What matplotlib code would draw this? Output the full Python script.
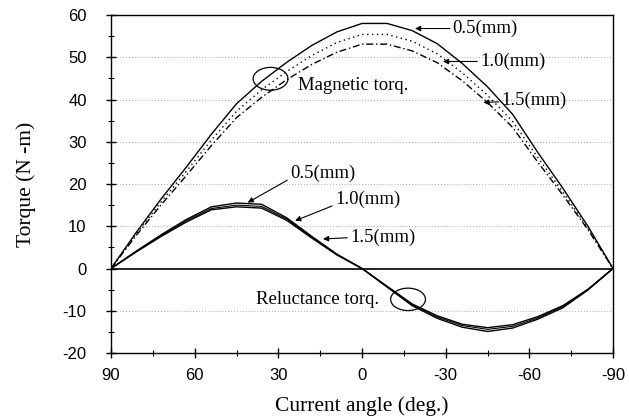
import matplotlib
matplotlib.use("Agg")
import matplotlib.pyplot as plt
from matplotlib.patches import Ellipse
from matplotlib.ticker import MultipleLocator, FixedLocator, FixedFormatter

# ---- data ----
angle = [90, 81, 72, 63, 54, 45, 36, 27, 18, 9, 0, -9, -18, -27, -36, -45, -54, -63, -72, -81, -90]

mag_05 = [0, 8.5, 16.5, 24.0, 31.8, 39.0, 44.3, 48.8, 52.8, 56.0, 58.0, 58.0, 56.3, 53.2, 48.5, 43.0, 36.5, 27.5, 19.0, 10.0, 0]
mag_10 = [0, 8.2, 15.8, 23.0, 30.4, 37.2, 42.3, 46.6, 50.4, 53.5, 55.4, 55.4, 53.8, 50.8, 46.3, 41.0, 34.8, 26.3, 18.1, 9.5, 0]
mag_15 = [0, 7.8, 15.1, 22.0, 29.1, 35.7, 40.5, 44.7, 48.3, 51.2, 53.1, 53.1, 51.5, 48.7, 44.4, 39.3, 33.4, 25.2, 17.4, 9.2, 0]

rel_05 = [0, 4.1, 8.0, 11.6, 14.6, 15.5, 15.2, 12.0, 7.6, 3.4, 0, -4.4, -8.8, -11.8, -13.9, -14.9, -14.1, -12.0, -9.3, -5.1, 0]
rel_10 = [0, 4.0, 7.8, 11.3, 14.2, 15.0, 14.7, 11.7, 7.4, 3.3, 0, -4.3, -8.6, -11.5, -13.5, -14.4, -13.7, -11.7, -9.0, -5.0, 0]
rel_15 = [0, 3.9, 7.6, 11.0, 13.9, 14.6, 14.3, 11.4, 7.2, 3.2, 0, -4.2, -8.4, -11.2, -13.2, -14.0, -13.3, -11.4, -8.8, -4.9, 0]

xticks = [90, 60, 30, 0, -30, -60, -90]
xticklabels = ["90", "60", "30", "0", "-30", "-60", "-90"]
yticks = [-20, -10, 0, 10, 20, 30, 40, 50, 60]
yticklabels = ["-20", "-10", "0", "10", "20", "30", "40", "50", "60"]
grid_levels = [-10, 10, 20, 30, 40, 50]

serif = "Liberation Serif"
sans = "Liberation Sans"

fig = plt.figure(figsize=(6.29, 4.19), dpi=100)
ax = fig.add_axes([0.1765, 0.1575, 0.7981, 0.8067])

for g in grid_levels:
    ax.axhline(g, color="#888888", lw=0.6, ls=(0, (1, 2.5)), zorder=1)
ax.axhline(0, color="black", lw=1.2, zorder=2)

ax.plot(angle, mag_05, color="black", lw=1.0, zorder=3)
ax.plot(angle, mag_10, color="black", lw=1.0, ls=(0, (1, 2.5)), zorder=3)
ax.plot(angle, mag_15, color="black", lw=1.0, ls=(0, (5, 2, 1, 2)), zorder=3)

ax.plot(angle, rel_05, color="black", lw=1.0, zorder=3)
ax.plot(angle, rel_10, color="black", lw=0.8, zorder=3)
ax.plot(angle, rel_15, color="black", lw=1.0, zorder=3)

ax.set_xlim(90, -90)
ax.set_ylim(-20, 60)
ax.xaxis.set_major_locator(FixedLocator(xticks))
ax.xaxis.set_major_formatter(FixedFormatter(xticklabels))
ax.xaxis.set_minor_locator(MultipleLocator(15))
ax.yaxis.set_major_locator(FixedLocator(yticks))
ax.yaxis.set_major_formatter(FixedFormatter(yticklabels))
ax.yaxis.set_minor_locator(MultipleLocator(5))

ax.tick_params(axis="both", which="major", direction="inout", length=7, width=1.0,
               labelsize=12)
ax.tick_params(axis="x", which="major", pad=7)
ax.tick_params(axis="y", which="major", pad=14)
ax.tick_params(axis="both", which="minor", direction="inout", length=4, width=0.8)
for lab in ax.get_xticklabels() + ax.get_yticklabels():
    lab.set_fontfamily(sans)

for s in ax.spines.values():
    s.set_linewidth(1.0)
    s.set_color("black")

ax.set_xlabel("Current angle (deg.)", fontfamily=serif, fontsize=15.5, labelpad=10)
ax.set_ylabel("Torque (N -m)", fontfamily=serif, fontsize=15.5, labelpad=19)

# ellipses
ax.add_patch(Ellipse((32.8, 44.9), 12.5, 5.4, fill=False, ec="black", lw=0.9, zorder=4))
ax.add_patch(Ellipse((-16.5, -7.3), 12.5, 5.3, fill=False, ec="black", lw=0.9, zorder=4))

tfont = dict(fontfamily=serif, fontsize=13.5)
ax.text(23.0, 43.3, "Magnetic torq.", ha="left", va="center", **tfont)
ax.text(16.0, -7.3, "Reluctance torq.", ha="center", va="center", **tfont)

arrow = dict(arrowstyle="-|>", color="black", lw=0.8, mutation_scale=8, shrinkA=0, shrinkB=0)

ax.annotate("0.5(mm)", xy=(-19, 56.8), xytext=(-32.5, 56.8), ha="left", va="center",
            arrowprops=arrow, **tfont)
ax.annotate("1.0(mm)", xy=(-29, 49.0), xytext=(-42.3, 49.0), ha="left", va="center",
            arrowprops=arrow, **tfont)
ax.annotate("1.5(mm)", xy=(-43.5, 39.3), xytext=(-50.0, 39.8), ha="left", va="center",
            arrowprops=arrow, **tfont)

ax.annotate("0.5(mm)", xy=(41.0, 15.6), xytext=(25.8, 22.5), ha="left", va="center",
            arrowprops=dict(arrow, relpos=(0, 0.2)), **tfont)
ax.annotate("1.0(mm)", xy=(24.0, 11.3), xytext=(9.7, 16.3), ha="left", va="center",
            arrowprops=dict(arrow, relpos=(0, 0.2)), **tfont)
ax.annotate("1.5(mm)", xy=(14.0, 7.0), xytext=(4.3, 7.3), ha="left", va="center",
            arrowprops=dict(arrow, relpos=(0, 0.5)), **tfont)

fig.savefig("out.png", dpi=100)
